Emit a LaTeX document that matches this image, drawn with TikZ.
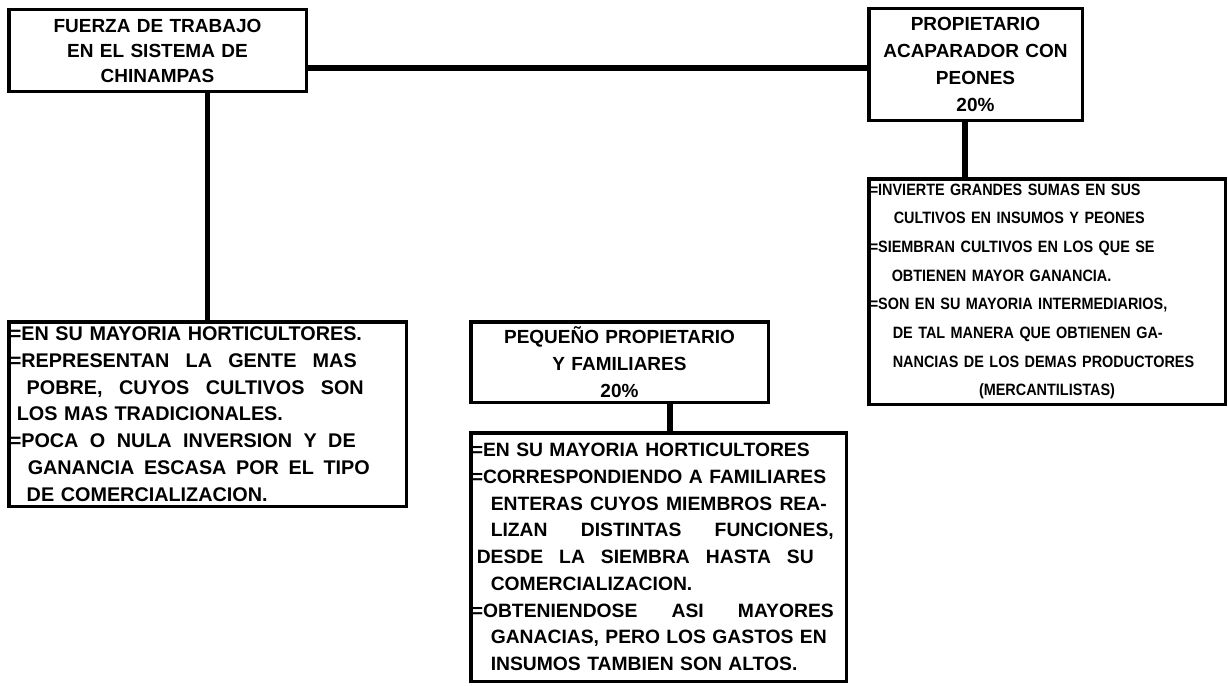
\documentclass[tikz,border=0pt]{standalone}
\usepackage{fontspec}
\setmainfont{Liberation Sans}
\newfontfamily\narrowfont{Liberation Sans}[FakeStretch=0.88]
\usepackage{tikz}
\usepackage{xcolor}
\newcommand{\jline}[2]{\leavevmode\hbox to #1{#2}}

\begin{document}
\begin{tikzpicture}[x=1pt,y=-1pt,
  boxline/.style={draw=linecolor,line width=3.5pt,rectangle,anchor=north west,inner xsep=1pt,inner ysep=0pt,align=left,font=\bfseries\fontsize{19.3}{26.7}\selectfont},
  headline/.style={boxline,align=center,font=\bfseries\fontsize{19}{27}\selectfont},
  linkline/.style={draw=linecolor,line width=5.5pt}]
\definecolor{linecolor}{RGB}{0,0,0} % Definition of the line color
\useasboundingbox (0,0) rectangle (1228,685); % Page of 1228 x 685
\node[headline,text width=295.5pt,minimum height=81.5pt,font=\bfseries\fontsize{19}{25}\selectfont] (fuerza) at (7,8) {FUERZA DE TRABAJO\\EN EL SISTEMA DE\\CHINAMPAS}; % Top left box
\node[headline,text width=211.5pt,minimum height=111.5pt] (propietario) at (867,7) {PROPIETARIO\\ACAPARADOR CON\\PEONES\\20\%}; % Top right box
\node[boxline,text width=395.5pt,minimum height=184.5pt,font=\bfseries\fontsize{19.8}{26.8}\selectfont] (horticultores) at (7,320) {%
=EN SU MAYORIA HORTICULTORES.\\
\jline{347pt}{=REPRESENTAN\hfill LA\hfill GENTE\hfill MAS}\\
\hspace*{17pt}\jline{337pt}{POBRE,\hfill CUYOS\hfill CULTIVOS\hfill SON}\\
\hspace*{7pt}LOS MAS TRADICIONALES.\\
\jline{346pt}{=POCA\hfill O\hfill NULA\hfill INVERSION\hfill Y\hfill DE}\\
\hspace*{18pt}\jline{342pt}{GANANCIA\hfill ESCASA\hfill POR\hfill EL\hfill TIPO}\\
\hspace*{17pt}DE COMERCIALIZACION.}; % Bottom left box
\node[boxline,text width=354.5pt,minimum height=225.5pt,font=\narrowfont\bfseries\fontsize{16.4}{28.7}\selectfont] (acapdetalle) at (867,177) {%
=INVIERTE GRANDES SUMAS EN SUS\\
\hspace*{24pt}CULTIVOS EN INSUMOS Y PEONES\\
=SIEMBRAN CULTIVOS EN LOS QUE SE\\
\hspace*{22pt}OBTIENEN MAYOR GANANCIA.\\
=SON EN SU MAYORIA INTERMEDIARIOS,\\
\hspace*{23pt}DE TAL MANERA QUE OBTIENEN GA-\\
\hspace*{23pt}NANCIAS DE LOS DEMAS PRODUCTORES\\
\makebox[354.5pt]{(MERCANTILISTAS)}}; % Right box under the owner
\node[headline,text width=295.5pt,minimum height=80.5pt] (pequeno) at (469,320) {PEQUE\~NO PROPIETARIO\\Y FAMILIARES\\20\%}; % Middle box
\node[boxline,text width=373.5pt,minimum height=248.5pt] (familiares) at (469,431) {%
=EN SU MAYORIA HORTICULTORES\\
=CORRESPONDIENDO A FAMILIARES\\
\hspace*{19pt}\jline{336pt}{ENTERAS\hfill CUYOS\hfill MIEMBROS\hfill REA-}\\
\hspace*{19pt}\jline{343pt}{LIZAN\hfill DISTINTAS\hfill FUNCIONES,}\\
\hspace*{5pt}\jline{337pt}{DESDE\hfill LA\hfill SIEMBRA\hfill HASTA\hfill SU}\\
\hspace*{19pt}COMERCIALIZACION.\\
\jline{362pt}{=OBTENIENDOSE\hfill ASI\hfill MAYORES}\\
\hspace*{19pt}\jline{336pt}{GANACIAS,\hfill PERO\hfill LOS\hfill GASTOS\hfill EN}\\
\hspace*{19pt}INSUMOS TAMBIEN SON ALTOS.}; % Bottom middle box
\coordinate (topjoin) at ([yshift=-3.5pt]propietario.west); % Height of the top line
\coordinate (rightdrop) at ([xshift=-10.5pt]propietario.south); % Foot of the owner box
\coordinate (middrop) at ([xshift=11.5pt]familiares.north); % Head of the bottom middle box
\draw[linkline] (topjoin) -- (fuerza.east |- topjoin); % Line between the two top boxes
\draw[linkline] (horticultores.north) -- (horticultores.north |- fuerza.south); % Line down on the left
\draw[linkline] (rightdrop) -- (rightdrop |- acapdetalle.north); % Line down on the right
\draw[linkline] (middrop) -- (middrop |- pequeno.south); % Line down in the middle
\end{tikzpicture}
\end{document}
